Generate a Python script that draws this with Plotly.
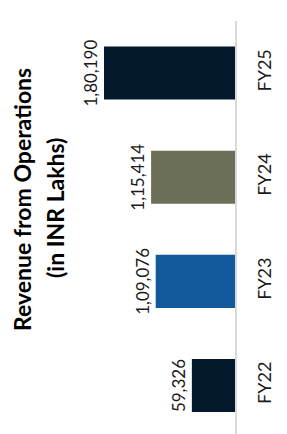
import plotly.graph_objects as go

categories = ["FY22", "FY23", "FY24", "FY25"]
values = [59326, 109076, 115414, 180190]
value_labels = ["59,326", "1,09,076", "1,15,414", "1,80,190"]
bar_colors = ["#03182B", "#125A9C", "#6C7058", "#03182B"]
title_line1 = "Revenue from Operations"
title_line2 = "(in INR Lakhs)"

W, H = 287, 434
OFF = 8  # page body margin offset
ML, MR, MT, MB = 0, 60, 13, 8
PW, PH = W - ML - MR, H - MT - MB

FONT = "Lato, 'Noto Sans', sans-serif"

fig = go.Figure(go.Bar(
    y=categories, x=values, orientation="h",
    marker=dict(color=bar_colors, line=dict(width=0)),
    text=value_labels, textposition="outside", textangle=-90,
    textfont=dict(family=FONT, size=17, color="#1A1A1A"),
    cliponaxis=False,
))

def px_x(px):
    return (px - OFF - ML) / PW

def px_y(py):
    return (H - MB - (py - OFF)) / PH

fig.add_annotation(text="<b>" + title_line1 + "</b>", textangle=-90,
                   xref="paper", yref="paper", x=px_x(22), y=px_y(200),
                   xanchor="center", yanchor="middle", showarrow=False,
                   font=dict(family=FONT, size=23, color="#000000"))
fig.add_annotation(text="<b>" + title_line2 + "</b>", textangle=-90,
                   xref="paper", yref="paper", x=px_x(55), y=px_y(208),
                   xanchor="center", yanchor="middle", showarrow=False,
                   font=dict(family=FONT, size=23, color="#000000"))

fig.update_layout(
    width=W, height=H,
    margin=dict(l=ML, r=MR, t=MT, b=MB, pad=0, autoexpand=False),
    paper_bgcolor="white", plot_bgcolor="white",
    bargap=0.49, showlegend=False,
    xaxis=dict(range=[312237, 0], visible=False, showgrid=False, zeroline=False),
    yaxis=dict(categoryorder="array", categoryarray=categories,
               range=[-0.466, 3.5], side="right", tickangle=-90,
               showline=True, linecolor="#D9D9D9", linewidth=2,
               showgrid=False, zeroline=False, ticks="",
               ticklabelstandoff=12, automargin=False,
               tickfont=dict(family=FONT, size=18, color="#1A1A1A")),
)

fig.write_html("out.html")
